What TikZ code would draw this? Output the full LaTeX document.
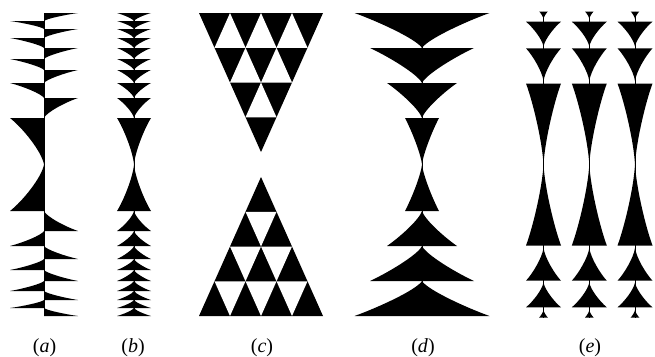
\documentclass[tikz,border=0pt]{standalone}
\usepackage{fontspec}
\setmainfont{Liberation Serif}
% concave piece: centre x, base y, tip y, half width (signed for half pieces)
\def\ka{0.62}\def\kb{0.22}\def\kc{0.07}\def\kd{0.72}
\newcommand\hpiece[4]{%
  \pgfmathsetmacro\pcx{#1}\pgfmathsetmacro\pyb{#2}\pgfmathsetmacro\pyt{#3}\pgfmathsetmacro\pw{#4}%
  \pgfmathsetmacro\pya{\pyb+\kb*(\pyt-\pyb)}\pgfmathsetmacro\pyc{\pyb+\kd*(\pyt-\pyb)}%
  \fill[piece] (\pcx,\pyb) -- ({\pcx+\pw},\pyb) .. controls ({\pcx+\ka*(\pw)},\pya) and ({\pcx+\kc*(\pw)},\pyc) .. (\pcx,\pyt) -- cycle;}
\newcommand\cpiece[4]{%
  \pgfmathsetmacro\pcx{#1}\pgfmathsetmacro\pyb{#2}\pgfmathsetmacro\pyt{#3}\pgfmathsetmacro\pw{#4}%
  \pgfmathsetmacro\pya{\pyb+\kb*(\pyt-\pyb)}\pgfmathsetmacro\pyc{\pyb+\kd*(\pyt-\pyb)}%
  \fill[piece] ({\pcx-\pw},\pyb) -- ({\pcx+\pw},\pyb)
    .. controls ({\pcx+\ka*\pw},\pya) and ({\pcx+\kc*\pw},\pyc) .. (\pcx,\pyt)
    .. controls ({\pcx-\kc*\pw},\pyc) and ({\pcx-\ka*\pw},\pya) .. cycle;}
\begin{document}
\begin{tikzpicture}[x=1pt,y=-1pt,
  piece/.style={black},
  axis/.style={draw=black,line width=0.7pt},
  lab/.style={font=\fontsize{20}{22}\selectfont,inner sep=0pt,anchor=base}]
\useasboundingbox (0,0) rectangle (655,356);
% ---------- (a)
\draw[axis] (44,13) -- (44,316);
\foreach \a/\b/\s in {13/21/1,21/29/-1,29/38/1,38/48/-1,48/59/1,59/70/-1,70/83/1,83/98/-1,98/118/1,118/164.5/-1}{
  \hpiece{44}{\a}{\b}{\s*34}
  \hpiece{44}{329-\a}{329-\b}{\s*34}
}
% ---------- (b)
\draw[axis,line width=0.5pt] (134,13) -- (134,316);
\foreach \a/\b in {13/21,21/29,29/38,38/48,48/59,59/70,70/83,83/98,98/118,118/164.5}{
  \cpiece{134}{\a}{\b}{17}
  \cpiece{134}{329-\a}{329-\b}{17}
}
% ---------- (c)
\fill (199,13) -- (323,13) -- (261,152) -- cycle;
\foreach \k in {0,1,2}{
  \pgfmathtruncatemacro\jm{2-\k}
  \foreach \j in {0,...,\jm}{
    \pgfmathsetmacro\yT{13+\k*34.75}\pgfmathsetmacro\yB{\yT+34.75}\pgfmathsetmacro\L{199+15.5*\k}
    \fill[white] ({\L+31*(\j+1)},\yT) -- ({\L+15.5+31*\j},\yB) -- ({\L+15.5+31*(\j+1)},\yB) -- cycle;
  }
}
\fill (199,316) -- (323,316) -- (261,177) -- cycle;
\foreach \k in {0,1,2}{
  \pgfmathtruncatemacro\jm{2-\k}
  \foreach \j in {0,...,\jm}{
    \pgfmathsetmacro\yB{316-\k*34.75}\pgfmathsetmacro\yT{\yB-34.75}\pgfmathsetmacro\L{199+15.5*\k}
    \fill[white] ({\L+31*(\j+1)},\yB) -- ({\L+15.5+31*\j},\yT) -- ({\L+15.5+31*(\j+1)},\yT) -- cycle;
  }
}
% ---------- (d)
\def\ka{0.64}\def\kb{0.25}\def\kc{0.08}\def\kd{0.75}
\draw[axis,line width=0.5pt] (422,13) -- (422,316);
\foreach \a/\b/\w in {13/48/67.5,48/83/52,83/118/35,118/164.5/17}{
  \cpiece{422}{\a}{\b}{\w}
  \cpiece{422}{329-\a}{329-\b}{\w}
}
% ---------- (e)
\def\ka{0.62}\def\kb{0.22}\def\kc{0.08}\def\kd{0.7}
\foreach \cx in {543.5,589.3,635}{
  \draw[axis,line width=0.5pt] (\cx,11.5) -- (\cx,317.5);
  \foreach \a/\b/\w in {11.5/19/4.3,21.7/46.5/17.5,48.3/81/17.5,83.5/164.5/17.5}{
    \cpiece{\cx}{\a}{\b}{\w}
    \cpiece{\cx}{329-\a}{329-\b}{\w}
  }
}
% ---------- labels
\node[lab] (la) at (44.5,352) {(\textit{a})};
\node[lab] (lb) at (133,352) {(\textit{b})};
\node[lab] (lc) at (262,352) {(\textit{c})};
\node[lab] (ld) at (423,352) {(\textit{d})};
\node[lab] (le) at (590,352) {(\textit{e})};
\end{tikzpicture}
\end{document}
